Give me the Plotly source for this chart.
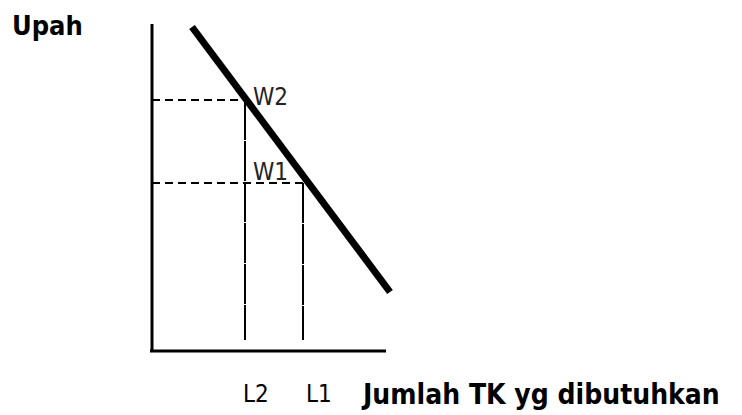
import plotly.graph_objects as go

# Conceptual data (abstract units; origin at the axis corner)
demand_x = [4.0, 23.8]
demand_y = [32.4, 5.9]
labor_labels = ["L2", "L1"]
labor_values = [9.3, 15.1]
wage_labels = ["W2", "W1"]
wage_values = [25.1, 16.8]
y_axis_title = "Upah"
x_axis_title = "Jumlah TK yg dibutuhkan"
y_axis_top = 32.7
x_axis_right = 23.4

FONT = "DejaVu Sans Condensed, sans-serif"

fig = go.Figure()

# Axis lines
fig.add_trace(go.Scatter(x=[0, 0], y=[-0.1, y_axis_top], mode="lines",
                         line=dict(color="black", width=3), hoverinfo="skip"))
fig.add_trace(go.Scatter(x=[-0.2, x_axis_right], y=[0, 0], mode="lines",
                         line=dict(color="black", width=3), hoverinfo="skip"))

# Dashed guides
for L, W in zip(labor_values, wage_values):
    fig.add_trace(go.Scatter(x=[0, L], y=[W, W], mode="lines",
                             line=dict(color="black", width=2, dash="8px,5px"),
                             hoverinfo="skip"))
    fig.add_trace(go.Scatter(x=[L, L], y=[W, 1.1], mode="lines",
                             line=dict(color="black", width=2, dash="40px,1px"),
                             hoverinfo="skip"))

# Demand curve
fig.add_trace(go.Scatter(x=demand_x, y=demand_y, mode="lines",
                         line=dict(color="black", width=7), hoverinfo="skip"))

# Labels
for W, t in zip(wage_values, wage_labels):
    fig.add_annotation(x=labor_values[0], y=W, text=t, showarrow=False,
                       xanchor="left", yanchor="middle", xshift=6,
                       yshift=(3 if t == "W2" else 11),
                       font=dict(family=FONT, size=24, color="#222222"))
for L, t in zip(labor_values, labor_labels):
    fig.add_annotation(x=L, y=0, text=t, showarrow=False,
                       xanchor="left", yanchor="middle",
                       xshift=(-4 if t == "L2" else 1), yshift=-43,
                       font=dict(family=FONT, size=24, color="black"))

fig.add_annotation(x=0, y=y_axis_top, text="<b>" + y_axis_title + "</b>",
                   showarrow=False, xanchor="left", yanchor="middle",
                   xshift=-142, yshift=-1,
                   font=dict(family=FONT, size=27, color="black"))
fig.add_annotation(x=labor_values[1], y=0, text="<b>" + x_axis_title + "</b>",
                   showarrow=False, xanchor="left", yanchor="middle",
                   xshift=56, yshift=-43,
                   font=dict(family=FONT, size=28, color="black"))

fig.update_layout(
    width=742, height=415,
    margin=dict(l=0, r=0, t=0, b=0),
    paper_bgcolor="white", plot_bgcolor="white",
    showlegend=False,
    xaxis=dict(range=[-15.2, 59.0], visible=False, fixedrange=True),
    yaxis=dict(range=[-6.4, 35.1], visible=False, fixedrange=True),
)

fig.write_html("out.html", config={"displayModeBar": False, "staticPlot": True})

# remove the default page margin so the figure sits at the window's corner
with open("out.html", "r", encoding="utf-8") as f:
    html = f.read()
html = html.replace("<body>", '<body style="margin:0;overflow:hidden">', 1)
with open("out.html", "w", encoding="utf-8") as f:
    f.write(html)
